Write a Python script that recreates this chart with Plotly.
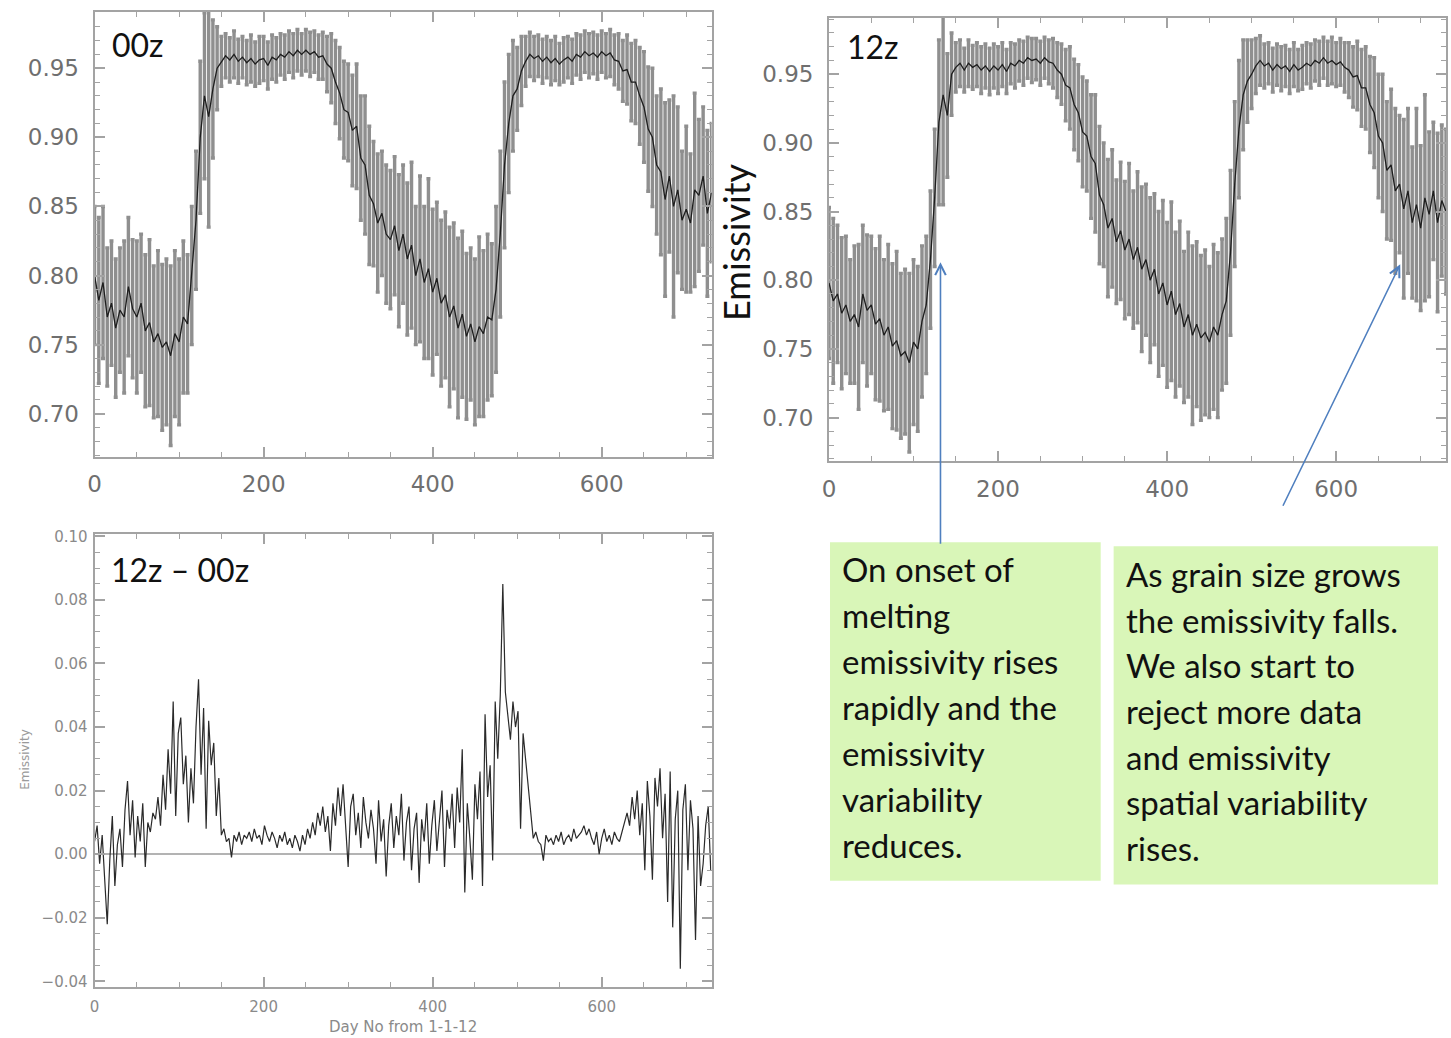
import plotly.graph_objects as go

W, H = 1451, 1038

# ---------------- data ----------------
DAYS_TOP = list(range(0, 731, 5))

MEAN_00Z = [
    0.800, 0.782, 0.795, 0.770, 0.780, 0.762, 0.775, 0.770, 0.792, 0.776,
    0.770, 0.780, 0.760, 0.766, 0.752, 0.758, 0.748, 0.752, 0.742, 0.758,
    0.752, 0.770, 0.765, 0.800, 0.840, 0.900, 0.930, 0.915, 0.935, 0.950,
    0.955, 0.959, 0.956, 0.960, 0.955, 0.958, 0.954, 0.957, 0.953, 0.956,
    0.957, 0.952, 0.958, 0.956, 0.960, 0.958, 0.962, 0.959, 0.963, 0.960,
    0.963, 0.960, 0.962, 0.958, 0.959, 0.953, 0.950, 0.940, 0.932, 0.920,
    0.918, 0.905, 0.908, 0.885, 0.880, 0.858, 0.852, 0.838, 0.845, 0.830,
    0.826, 0.836, 0.818, 0.830, 0.812, 0.822, 0.800, 0.812, 0.795, 0.805,
    0.788, 0.798, 0.780, 0.786, 0.770, 0.778, 0.762, 0.772, 0.756, 0.765,
    0.752, 0.763, 0.758, 0.770, 0.768, 0.790, 0.830, 0.880, 0.910, 0.930,
    0.935, 0.948, 0.955, 0.960, 0.957, 0.959, 0.955, 0.958, 0.954, 0.957,
    0.953, 0.956, 0.958, 0.955, 0.960, 0.958, 0.962, 0.959, 0.961, 0.958,
    0.962, 0.959, 0.961, 0.956, 0.955, 0.948, 0.949, 0.940, 0.940, 0.930,
    0.922, 0.906, 0.900, 0.880, 0.875, 0.855, 0.872, 0.850, 0.862, 0.840,
    0.848, 0.838, 0.862, 0.858, 0.872, 0.845, 0.860,
]
ERR_00Z = [
    0.050, 0.060, 0.055, 0.050, 0.045, 0.050, 0.045, 0.055, 0.050, 0.050,
    0.055, 0.050, 0.055, 0.060, 0.055, 0.060, 0.060, 0.060, 0.065, 0.060,
    0.060, 0.055, 0.050, 0.050, 0.050, 0.055, 0.060, 0.080, 0.050, 0.030,
    0.018, 0.016, 0.016, 0.017, 0.016, 0.015, 0.016, 0.017, 0.016, 0.017,
    0.016, 0.017, 0.016, 0.016, 0.015, 0.016, 0.015, 0.016, 0.015, 0.015,
    0.015, 0.016, 0.015, 0.016, 0.017, 0.020, 0.025, 0.030, 0.033, 0.035,
    0.035, 0.040, 0.045, 0.045, 0.050, 0.050, 0.045, 0.050, 0.045, 0.050,
    0.050, 0.050, 0.055, 0.050, 0.055, 0.060, 0.050, 0.060, 0.055, 0.065,
    0.060, 0.055, 0.060, 0.060, 0.065, 0.060, 0.065, 0.060, 0.060, 0.055,
    0.060, 0.065, 0.060, 0.060, 0.055, 0.060, 0.060, 0.060, 0.050, 0.040,
    0.030, 0.025, 0.018, 0.016, 0.016, 0.015, 0.016, 0.015, 0.016, 0.016,
    0.015, 0.016, 0.015, 0.016, 0.015, 0.016, 0.015, 0.016, 0.015, 0.016,
    0.015, 0.016, 0.017, 0.018, 0.020, 0.022, 0.025, 0.028, 0.030, 0.035,
    0.040, 0.045, 0.050, 0.050, 0.060, 0.070, 0.055, 0.080, 0.060, 0.050,
    0.060, 0.050, 0.070, 0.055, 0.050, 0.060, 0.050,
]

MEAN_12Z = [
    0.798, 0.785, 0.790, 0.776, 0.782, 0.770, 0.775, 0.766, 0.790, 0.778,
    0.782, 0.768, 0.772, 0.760, 0.766, 0.752, 0.756, 0.745, 0.748, 0.740,
    0.755, 0.750, 0.770, 0.782, 0.815, 0.860, 0.915, 0.935, 0.920, 0.950,
    0.955, 0.958, 0.953, 0.958, 0.955, 0.957, 0.953, 0.956, 0.952, 0.956,
    0.953, 0.957, 0.952, 0.958, 0.956, 0.960, 0.958, 0.962, 0.960, 0.961,
    0.958, 0.962, 0.959, 0.958, 0.953, 0.950, 0.942, 0.940, 0.928, 0.922,
    0.908, 0.905, 0.890, 0.885, 0.862, 0.855, 0.838, 0.845, 0.828, 0.836,
    0.822, 0.830, 0.815, 0.824, 0.808, 0.815, 0.800, 0.808, 0.790, 0.798,
    0.782, 0.792, 0.775, 0.783, 0.766, 0.775, 0.760, 0.768, 0.758, 0.762,
    0.755, 0.766, 0.760, 0.775, 0.785, 0.820, 0.870, 0.910, 0.935, 0.945,
    0.950, 0.956, 0.960, 0.956, 0.958, 0.953, 0.957, 0.954, 0.956, 0.952,
    0.957, 0.953, 0.955, 0.958, 0.956, 0.960, 0.958, 0.962, 0.958, 0.960,
    0.957, 0.959, 0.955, 0.953, 0.948, 0.949, 0.940, 0.940, 0.928, 0.922,
    0.905, 0.900, 0.880, 0.884, 0.865, 0.870, 0.852, 0.865, 0.842, 0.855,
    0.838, 0.860, 0.848, 0.865, 0.842, 0.858, 0.850,
]
ERR_12Z = [
    0.055, 0.060, 0.050, 0.055, 0.050, 0.045, 0.050, 0.060, 0.050, 0.055,
    0.050, 0.055, 0.060, 0.055, 0.060, 0.060, 0.065, 0.060, 0.060, 0.065,
    0.060, 0.060, 0.055, 0.050, 0.050, 0.050, 0.060, 0.080, 0.045, 0.030,
    0.018, 0.017, 0.016, 0.017, 0.016, 0.016, 0.017, 0.016, 0.017, 0.016,
    0.017, 0.016, 0.016, 0.015, 0.016, 0.015, 0.016, 0.015, 0.016, 0.015,
    0.016, 0.015, 0.016, 0.018, 0.020, 0.022, 0.026, 0.030, 0.033, 0.035,
    0.040, 0.040, 0.045, 0.050, 0.050, 0.045, 0.050, 0.050, 0.045, 0.050,
    0.050, 0.055, 0.050, 0.055, 0.060, 0.055, 0.060, 0.055, 0.060, 0.060,
    0.060, 0.065, 0.060, 0.060, 0.055, 0.060, 0.065, 0.060, 0.060, 0.060,
    0.055, 0.060, 0.060, 0.055, 0.060, 0.060, 0.060, 0.050, 0.040, 0.030,
    0.025, 0.020, 0.018, 0.016, 0.015, 0.016, 0.015, 0.016, 0.015, 0.016,
    0.016, 0.015, 0.016, 0.015, 0.016, 0.015, 0.016, 0.015, 0.016, 0.017,
    0.016, 0.017, 0.018, 0.020, 0.022, 0.025, 0.028, 0.030, 0.035, 0.040,
    0.045, 0.050, 0.050, 0.055, 0.060, 0.050, 0.065, 0.060, 0.055, 0.070,
    0.060, 0.075, 0.060, 0.050, 0.065, 0.055, 0.060,
]

DAYS_DIFF = list(range(0, 730, 3))
DIFF_12Z_00Z = [
    0.004, 0.009, -0.003, 0.006, -0.008, -0.022, -0.002, 0.012, -0.010, 0.003,
    0.008, -0.004, 0.014, 0.023, 0.006, 0.017, -0.001, 0.012, 0.004, 0.016,
    -0.004, 0.010, 0.007, 0.013, 0.011, 0.018, 0.009, 0.025, 0.014, 0.033,
    0.019, 0.048, 0.012, 0.038, 0.043, 0.022, 0.031, 0.010, 0.027, 0.016,
    0.040, 0.055, 0.025, 0.046, 0.008, 0.042, 0.028, 0.035, 0.012, 0.024,
    0.006, 0.008, 0.004, 0.005, -0.001, 0.006, 0.004, 0.007, 0.003, 0.006,
    0.005, 0.007, 0.004, 0.008, 0.005, 0.006, 0.003, 0.009, 0.006, 0.004,
    0.007, 0.005, 0.002, 0.006, 0.004, 0.007, 0.003, 0.005, 0.002, 0.006,
    0.004, 0.001, 0.006, 0.003, 0.008, 0.005, 0.010, 0.006, 0.013, 0.009,
    0.015, 0.007, 0.012, 0.001, 0.016, 0.009, 0.021, 0.012, 0.022, 0.008,
    -0.004, 0.015, 0.019, 0.006, 0.013, 0.002, 0.018, 0.010, 0.005, 0.014,
    0.008, -0.003, 0.017, 0.004, 0.011, -0.007, 0.009, 0.016, 0.002, 0.012,
    0.006, 0.019, -0.002, 0.010, 0.015, -0.005, 0.008, 0.013, -0.009, 0.011,
    0.004, 0.016, -0.003, 0.009, 0.017, 0.001, 0.012, 0.020, -0.004, 0.014,
    0.008, 0.019, 0.002, 0.021, 0.010, 0.033, -0.012, 0.016, 0.005, -0.008,
    0.022, 0.011, 0.026, -0.010, 0.044, 0.018, 0.028, -0.002, 0.048, 0.030,
    0.050, 0.085, 0.051, 0.044, 0.036, 0.048, 0.040, 0.045, 0.008, 0.038,
    0.030, 0.020, 0.012, 0.005, 0.007, 0.004, 0.003, -0.002, 0.006, 0.004,
    0.005, 0.003, 0.006, 0.004, 0.007, 0.003, 0.005, 0.006, 0.004, 0.008,
    0.005, 0.006, 0.007, 0.009, 0.006, 0.008, 0.005, 0.003, 0.007, 0.000,
    0.005, 0.008, 0.004, 0.006, 0.003, 0.007, 0.005, 0.004, 0.007, 0.010,
    0.013, 0.009, 0.018, 0.011, 0.020, 0.006, 0.016, -0.005, 0.023, 0.012,
    -0.008, 0.024, 0.015, 0.027, 0.005, 0.019, -0.015, 0.026, -0.023, 0.011,
    0.020, -0.036, 0.014, 0.022, -0.005, 0.017, 0.008, -0.027, 0.012, -0.010,
    -0.003, 0.009, 0.015, -0.005,
]

TOP_XTICKS = [0, 200, 400, 600]
TOP_YTICKS = [0.70, 0.75, 0.80, 0.85, 0.90, 0.95]
BOT_YTICKS = [-0.04, -0.02, 0.00, 0.02, 0.04, 0.06, 0.08, 0.10]

BOX1_LINES = ["On onset of", "melting", "emissivity rises", "rapidly and the",
              "emissivity", "variability", "reduces."]
BOX2_LINES = ["As grain size grows", "the emissivity falls.", "We also start to",
              "reject more data", "and emissivity", "spatial variability", "rises."]


# ---------------- helpers (pixel -> paper) ----------------
def px(x):
    return x / W


def py(y):
    return 1 - y / H


AX_COL = "#a3a3a3"
ERR_COL = "#8f8f8f"
LINE_COL = "#1e1e1e"


def axis_common(dtick_minor):
    return dict(
        showline=True, linecolor=AX_COL, linewidth=2, mirror="allticks",
        ticks="inside", ticklen=10, tickwidth=1.5, tickcolor=AX_COL,
        minor=dict(ticks="inside", ticklen=5, tickwidth=1.2, tickcolor=AX_COL, dtick=dtick_minor),
        showgrid=False, zeroline=False,
    )


fig = go.Figure()

for mean, err, xa, ya in [(MEAN_00Z, ERR_00Z, "x", "y"), (MEAN_12Z, ERR_12Z, "x2", "y2")]:
    fig.add_trace(go.Scatter(
        x=DAYS_TOP, y=mean, mode="lines", xaxis=xa, yaxis=ya,
        line=dict(color=ERR_COL, width=0.5),
        error_y=dict(type="data", array=err, visible=True, color=ERR_COL, thickness=3.4, width=2),
        hoverinfo="skip",
    ))
    fig.add_trace(go.Scatter(
        x=DAYS_TOP, y=mean, mode="lines", xaxis=xa, yaxis=ya,
        line=dict(color=LINE_COL, width=1.3),
    ))

fig.add_trace(go.Scatter(
    x=DAYS_DIFF, y=DIFF_12Z_00Z, mode="lines", xaxis="x3", yaxis="y3",
    line=dict(color="#2a2a2a", width=1.2),
))

top_tick_font = dict(family="DejaVu Sans", size=23, color="#6f6f6f")
bot_tick_font = dict(family="DejaVu Sans", size=15, color="#8a8a8a")

# top-left
xa1 = axis_common(50)
xa1.update(domain=[px(88), px(708)], range=[0, 730], tickvals=TOP_XTICKS,
           tickfont=top_tick_font, anchor="y", ticklabelstandoff=5)
ya1 = axis_common(0.01)
ya1.update(domain=[py(455), py(5)], range=[0.6686, 0.9907], tickvals=TOP_YTICKS,
           tickformat=".2f", tickfont=top_tick_font, anchor="x", ticklabelstandoff=9)
# top-right
xa2 = axis_common(50)
xa2.update(domain=[px(826), px(1446)], range=[0, 730], tickvals=TOP_XTICKS,
           tickfont=top_tick_font, anchor="y2", ticklabelstandoff=6)
ya2 = axis_common(0.01)
ya2.update(domain=[py(459), py(11)], range=[0.6683, 0.991], tickvals=TOP_YTICKS,
           tickformat=".2f", tickfont=top_tick_font, anchor="x2", ticklabelstandoff=9)
# bottom
xa3 = axis_common(50)
xa3.update(domain=[px(88), px(708)], range=[0, 730], tickvals=TOP_XTICKS,
           tickfont=bot_tick_font, anchor="y3", ticklabelstandoff=5,
           title=dict(text="Day No from 1-1-12", font=dict(family="DejaVu Sans", size=15, color="#8a8a8a"), standoff=7))
ya3 = axis_common(0.005)
ya3.update(domain=[py(990), py(533)], range=[-0.0416, 0.1006], tickvals=BOT_YTICKS,
           tickformat=".2f", tickfont=bot_tick_font, anchor="x3", ticklabelstandoff=2,
           zeroline=True, zerolinecolor="#b3b3b3", zerolinewidth=2)

fig.update_layout(
    width=W, height=H, margin=dict(l=0, r=0, t=0, b=0),
    paper_bgcolor="white", plot_bgcolor="white", showlegend=False,
    xaxis=xa1, yaxis=ya1, xaxis2=xa2, yaxis2=ya2, xaxis3=xa3, yaxis3=ya3,
)

LABEL_FONT = dict(family="Lato", size=32, color="#111111")
annotations = [
    dict(text="00z", x=px(103), y=py(38), xref="paper", yref="paper", xanchor="left",
         yanchor="middle", showarrow=False, font=LABEL_FONT),
    dict(text="12z", x=px(842), y=py(40), xref="paper", yref="paper", xanchor="left",
         yanchor="middle", showarrow=False, font=LABEL_FONT),
    dict(text="12z \u2013 00z", x=px(102), y=py(569), xref="paper", yref="paper", xanchor="left",
         yanchor="middle", showarrow=False, font=LABEL_FONT),
    dict(text="Emissivity", x=px(733), y=py(238), xref="paper", yref="paper", xanchor="center",
         yanchor="middle", textangle=-90, showarrow=False,
         font=dict(family="Lato", size=36, color="#111111")),
    dict(text="Emissivity", x=px(18), y=py(760), xref="paper", yref="paper", xanchor="center",
         yanchor="middle", textangle=-90, showarrow=False,
         font=dict(family="DejaVu Sans", size=12, color="#9a9a9a")),
]

shapes = [
    dict(type="rect", xref="paper", yref="paper", x0=px(827), x1=px(1099), y0=py(883), y1=py(541),
         fillcolor="#d9f6b8", line=dict(width=0), layer="below"),
    dict(type="rect", xref="paper", yref="paper", x0=px(1112), x1=px(1438), y0=py(887), y1=py(545),
         fillcolor="#d9f6b8", line=dict(width=0), layer="below"),
]

BOX_FONT = dict(family="Lato", size=33, color="#111111")
for i, t in enumerate(BOX1_LINES):
    annotations.append(dict(text=t, x=px(837), y=py(568 + i * 46.5), xref="paper", yref="paper",
                            xanchor="left", yanchor="middle", showarrow=False, font=BOX_FONT))
for i, t in enumerate(BOX2_LINES):
    annotations.append(dict(text=t, x=px(1122), y=py(573 + i * 46.2), xref="paper", yref="paper",
                            xanchor="left", yanchor="middle", showarrow=False, font=BOX_FONT))

ARROW_COL = "#4f7fbf"
annotations.append(dict(text="", x=px(938), y=py(258), xref="paper", yref="paper",
                        ax=0, ay=283, axref="pixel", ayref="pixel", showarrow=True,
                        arrowhead=5, arrowsize=1.3, arrowwidth=1.6, arrowcolor=ARROW_COL, standoff=0))
annotations.append(dict(text="", x=px(1400), y=py(260), xref="paper", yref="paper",
                        ax=-118, ay=243, axref="pixel", ayref="pixel", showarrow=True,
                        arrowhead=5, arrowsize=1.3, arrowwidth=1.6, arrowcolor=ARROW_COL, standoff=0))

fig.update_layout(annotations=annotations, shapes=shapes)

fig.write_html(
    "out.html",
    config={"displayModeBar": False},
    post_script="document.body.style.margin='0';document.body.style.overflow='hidden';",
)
